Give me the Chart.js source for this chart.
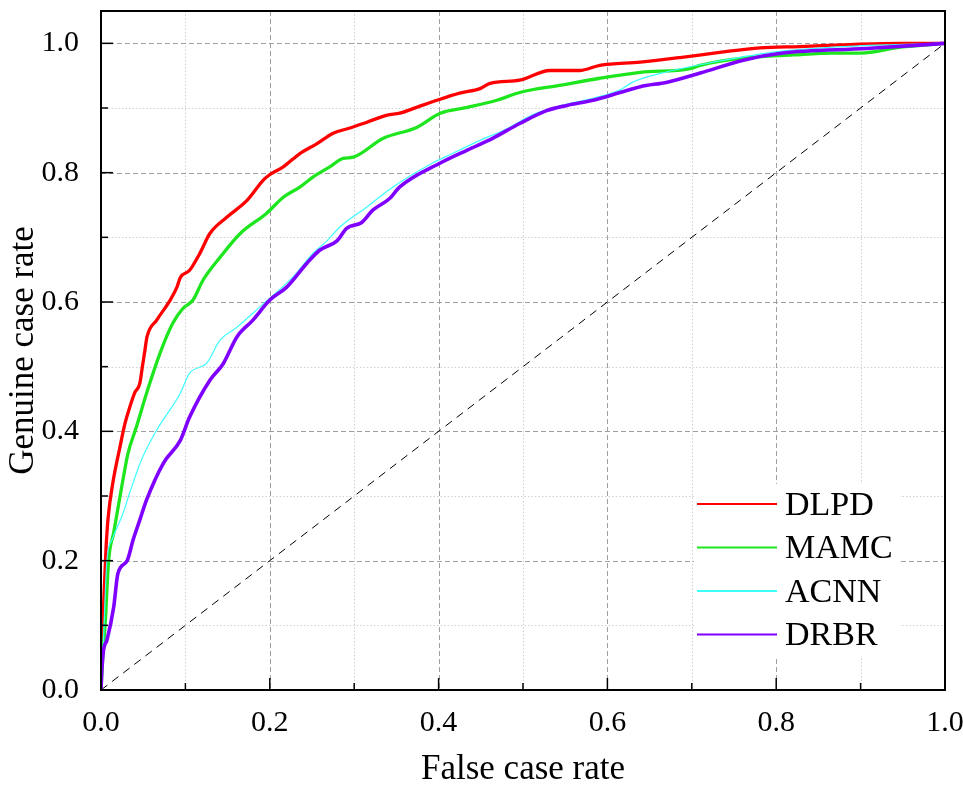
<!DOCTYPE html>
<html>
<head>
<meta charset="utf-8">
<title>ROC</title>
<script src="https://cdn.jsdelivr.net/npm/chart.js@4.4.1/dist/chart.umd.min.js"></script>
<style>
  body { margin: 0; background: #fff; }
</style>
</head>
<body>
<canvas id="rocChart" width="963" height="785"></canvas>
<script>
// series names and colours
var names = ['DLPD', 'MAMC', 'ACNN', 'DRBR'];
var colors = ['#ff0000', '#1ee61e', '#3cffff', '#8000ff'];

// false case rate (x) / genuine case rate (y)
var dlpdX = [0, 0.001, 0.003, 0.006, 0.0085, 0.014, 0.0225, 0.028, 0.034, 0.04, 0.046, 0.049, 0.052, 0.0545, 0.066, 0.082, 0.09, 0.094, 0.105, 0.117, 0.129, 0.149, 0.173, 0.192, 0.199, 0.216, 0.236, 0.256, 0.275, 0.295, 0.315, 0.339, 0.354, 0.374, 0.398, 0.425, 0.449, 0.461, 0.496, 0.532, 0.567, 0.591, 0.639, 0.686, 0.733, 0.781, 0.828, 0.887, 0.947, 1.0];
var dlpdY = [0, 0.06, 0.128, 0.22, 0.267, 0.32, 0.376, 0.41, 0.437, 0.46, 0.474, 0.5, 0.525, 0.546, 0.572, 0.603, 0.623, 0.638, 0.649, 0.675, 0.706, 0.731, 0.757, 0.788, 0.796, 0.809, 0.83, 0.845, 0.861, 0.869, 0.878, 0.889, 0.892, 0.901, 0.912, 0.923, 0.93, 0.938, 0.943, 0.958, 0.958, 0.966, 0.971, 0.978, 0.986, 0.993, 0.995, 0.998, 1.0, 1.0];

var mamcX = [0, 0.002, 0.005, 0.009, 0.015, 0.026, 0.032, 0.042, 0.054, 0.07, 0.085, 0.097, 0.109, 0.121, 0.141, 0.165, 0.196, 0.216, 0.236, 0.251, 0.271, 0.287, 0.299, 0.334, 0.374, 0.402, 0.434, 0.469, 0.496, 0.543, 0.591, 0.639, 0.698, 0.71, 0.761, 0.82, 0.867, 0.9, 0.947, 1.0];
var mamcY = [0, 0.05, 0.104, 0.2, 0.243, 0.325, 0.366, 0.407, 0.459, 0.521, 0.567, 0.59, 0.603, 0.634, 0.669, 0.706, 0.737, 0.762, 0.778, 0.793, 0.809, 0.822, 0.824, 0.853, 0.87, 0.892, 0.901, 0.912, 0.924, 0.935, 0.946, 0.955, 0.961, 0.966, 0.977, 0.982, 0.985, 0.985, 0.994, 1.0];

var acnnX = [0, 0.002, 0.003, 0.007, 0.013, 0.026, 0.034, 0.048, 0.066, 0.094, 0.105, 0.125, 0.141, 0.161, 0.188, 0.2, 0.227, 0.251, 0.268, 0.283, 0.315, 0.346, 0.393, 0.417, 0.449, 0.481, 0.512, 0.552, 0.583, 0.615, 0.63, 0.671, 0.73, 0.789, 0.867, 0.94, 1.0];
var acnnY = [0, 0.04, 0.077, 0.2, 0.232, 0.273, 0.305, 0.356, 0.402, 0.459, 0.49, 0.505, 0.541, 0.561, 0.592, 0.606, 0.638, 0.675, 0.695, 0.716, 0.747, 0.778, 0.815, 0.83, 0.85, 0.868, 0.89, 0.906, 0.915, 0.928, 0.94, 0.956, 0.972, 0.985, 0.994, 0.998, 1.0];

var drbrX = [0, 0.001, 0.003, 0.007, 0.015, 0.02, 0.031, 0.038, 0.046, 0.054, 0.074, 0.094, 0.105, 0.129, 0.145, 0.161, 0.18, 0.2, 0.22, 0.244, 0.259, 0.28, 0.291, 0.309, 0.322, 0.342, 0.354, 0.402, 0.434, 0.464, 0.496, 0.528, 0.552, 0.583, 0.615, 0.639, 0.671, 0.71, 0.761, 0.808, 0.907, 1.0];
var drbrY = [0, 0.03, 0.062, 0.077, 0.128, 0.18, 0.2, 0.232, 0.263, 0.294, 0.351, 0.386, 0.422, 0.479, 0.505, 0.546, 0.572, 0.603, 0.623, 0.66, 0.68, 0.695, 0.714, 0.723, 0.742, 0.76, 0.778, 0.815, 0.835, 0.853, 0.876, 0.896, 0.904, 0.912, 0.924, 0.933, 0.94, 0.954, 0.974, 0.985, 0.992, 1.0];

// chance line
var diagX = [0, 1];
var diagY = [0, 1];

var tickLabels = ['0.0', '0.2', '0.4', '0.6', '0.8', '1.0'];

var serif = 'Liberation Serif';

function toPoints(xs, ys)
{
  var pts = [];
  for (var i = 0; i < xs.length; i++) pts.push({x: xs[i], y: ys[i]});
  return pts;
}

function curve(idx, xs, ys, width, order)
{
  return {
    label: names[idx],
    data: toPoints(xs, ys),
    showLine: true,
    borderColor: colors[idx],
    backgroundColor: colors[idx],
    borderWidth: width,
    pointRadius: 0,
    cubicInterpolationMode: 'monotone',
    order: order
  };
}

// no extra room for label overflow, the frame is placed by hand
function noPad(s)
{
  s.paddingLeft = 0; s.paddingRight = 0;
  s.paddingTop = 0; s.paddingBottom = 0;
}

// grid, inward ticks, frame and the legend box
var framePlugin = {
  id: 'frame',
  beforeDatasetsDraw: function(chart)
  {
    var ctx = chart.ctx, a = chart.chartArea;
    var xs = chart.scales.x, ys = chart.scales.y;
    ctx.save();
    for (var k = 1; k <= 10; k++)
    {
      var v = k / 10;
      var major = (k % 2 == 0);
      ctx.strokeStyle = major ? '#a0a0a0' : '#d0d0d0';
      ctx.lineWidth = 1;
      ctx.setLineDash(major ? [5, 3] : [1.5, 2]);
      var px = Math.round(xs.getPixelForValue(v)) + 0.5;
      if (k < 10)
      {
        ctx.beginPath(); ctx.moveTo(px, a.top); ctx.lineTo(px, a.bottom); ctx.stroke();
      }
      var py = Math.round(ys.getPixelForValue(v)) + 0.5;
      ctx.beginPath(); ctx.moveTo(a.left, py); ctx.lineTo(a.right, py); ctx.stroke();
    }
    ctx.restore();
  },
  afterDatasetsDraw: function(chart)
  {
    var ctx = chart.ctx;
    ctx.save();
    ctx.fillStyle = '#fff';
    ctx.fillRect(694, 484, 206, 172);
    ctx.font = '34px "' + serif + '"';
    ctx.textBaseline = 'middle';
    ctx.textAlign = 'left';
    for (var i = 0; i < names.length; i++)
    {
      var ly = 504 + i * 43.5;
      ctx.strokeStyle = colors[i];
      ctx.lineWidth = 2;
      ctx.beginPath(); ctx.moveTo(697, ly); ctx.lineTo(777, ly); ctx.stroke();
      ctx.fillStyle = '#000';
      ctx.fillText(names[i], 785, ly + 2);
    }
    ctx.restore();
  },
  afterDraw: function(chart)
  {
    var ctx = chart.ctx, a = chart.chartArea;
    var xs = chart.scales.x, ys = chart.scales.y;
    ctx.save();
    ctx.strokeStyle = '#000';
    ctx.lineWidth = 1.5;
    for (var k = 0; k <= 10; k++)
    {
      var v = k / 10;
      var len = (k % 2 == 0) ? 12 : 7;
      var px = xs.getPixelForValue(v);
      ctx.beginPath(); ctx.moveTo(px, a.bottom); ctx.lineTo(px, a.bottom - len); ctx.stroke();
      var py = ys.getPixelForValue(v);
      ctx.beginPath(); ctx.moveTo(a.left, py); ctx.lineTo(a.left + len, py); ctx.stroke();
    }
    ctx.lineWidth = 2;
    ctx.strokeRect(a.left, a.top, a.right - a.left, a.bottom - a.top);
    ctx.restore();
  }
};

var chart = document.getElementById('rocChart');

new Chart(chart, {
  type: 'scatter',
  data: {
    datasets: [
      curve(0, dlpdX, dlpdY, 3.3, 4),
      curve(1, mamcX, mamcY, 3.3, 3),
      curve(2, acnnX, acnnY, 1.2, 2),
      curve(3, drbrX, drbrY, 3.6, 1),
      {
        label: 'chance',
        data: toPoints(diagX, diagY),
        showLine: true,
        borderColor: '#000',
        borderWidth: 1,
        borderDash: [8, 6],
        pointRadius: 0,
        order: 5
      }
    ]
  },
  options: {
    responsive: false,
    animation: false,
    layout: { padding: { left: 0, right: 18, top: 11, bottom: 0 } },
    plugins: {
      legend: { display: false },
      tooltip: { enabled: false }
    },
    scales: {
      x: {
        type: 'linear',
        min: 0,
        max: 1,
        grid: { display: false },
        border: { display: false },
        ticks: {
          stepSize: 0.2,
          padding: 7,
          color: '#000',
          font: { family: serif, size: 30 },
          callback: function(v) { return tickLabels[Math.round(v * 5)]; }
        },
        title: {
          display: true,
          text: 'False case rate',
          color: '#000',
          font: { family: serif, size: 35, lineHeight: 1 },
          padding: { top: 0, bottom: -2 }
        },
        afterFit: function(s) { s.height = 95; noPad(s); }
      },
      y: {
        type: 'linear',
        min: 0,
        max: 1.05,
        grid: { display: false },
        border: { display: false },
        ticks: {
          stepSize: 0.2,
          includeBounds: false,
          padding: 14,
          color: '#000',
          font: { family: serif, size: 30 },
          callback: function(v) { return tickLabels[Math.round(v * 5)]; }
        },
        title: {
          display: true,
          text: 'Genuine case rate',
          color: '#000',
          font: { family: serif, size: 35, lineHeight: 1 },
          padding: { top: 6, bottom: 0 }
        },
        afterFit: function(s) { s.width = 101; noPad(s); }
      }
    }
  },
  plugins: [framePlugin]
});
</script>
</body>
</html>
